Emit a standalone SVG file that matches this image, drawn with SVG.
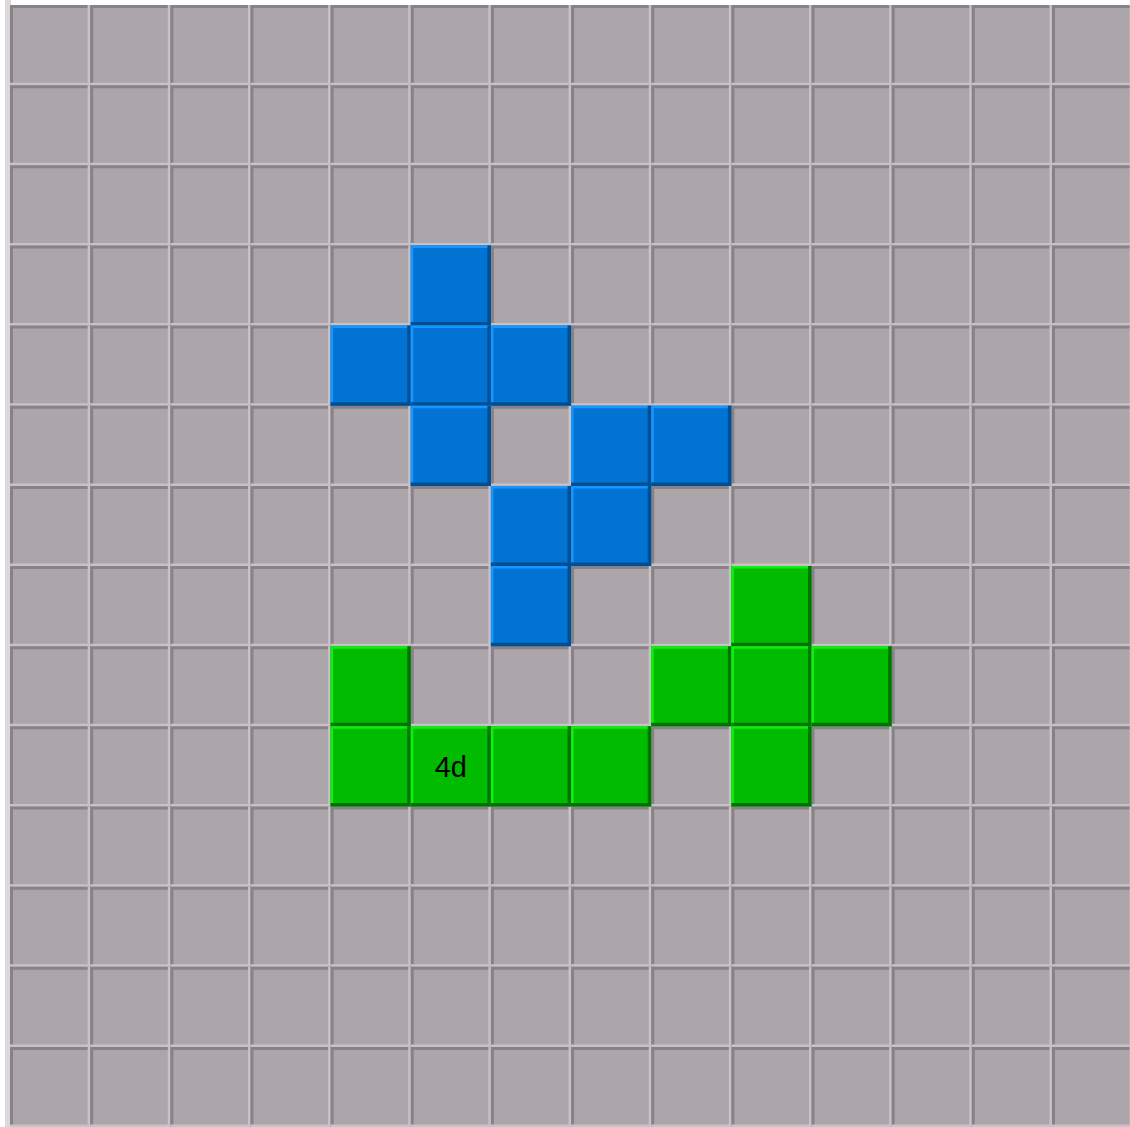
<svg xmlns="http://www.w3.org/2000/svg" xmlns:xlink="http://www.w3.org/1999/xlink" width="1130" height="1127" viewBox="0 0 1130 1127">
<style>
.lbl{font-family:"Liberation Sans",Arial,sans-serif;font-size:29px;fill:#000;text-anchor:middle}
</style>
<defs>
<g id="gc">
<rect width="80" height="80" fill="#aca6aa"/>
<path d="M0,0H80V3H3V80H0Z" fill="#878287"/>
<path d="M80,80H0V77.5H77.5V0H80Z" fill="#c8c2c8"/>
</g>
<g id="bc">
<rect width="80" height="80" fill="#0073d3"/>
<path d="M0,0H80V2.5H2.5V80H0Z" fill="#1697ff"/>
<path d="M80,80H0V76.5H76.5V0H80Z" fill="#004f93"/>
</g>
<g id="gr">
<rect width="80" height="80" fill="#00bb00"/>
<path d="M0,0H80V2.5H2.5V80H0Z" fill="#10f010"/>
<path d="M80,80H0V76.5H76.5V0H80Z" fill="#007400"/>
</g>
<g id="row">
<use xlink:href="#gc" x="0"/><use xlink:href="#gc" x="80"/><use xlink:href="#gc" x="160"/><use xlink:href="#gc" x="240"/><use xlink:href="#gc" x="320"/><use xlink:href="#gc" x="400"/><use xlink:href="#gc" x="480"/><use xlink:href="#gc" x="560"/><use xlink:href="#gc" x="640"/><use xlink:href="#gc" x="720"/><use xlink:href="#gc" x="800"/><use xlink:href="#gc" x="880"/><use xlink:href="#gc" x="960"/><use xlink:href="#gc" x="1040"/>
</g>
</defs>
<rect width="1130" height="1127" fill="#ffffff"/>
<rect x="5" y="0" width="6" height="1127" fill="#dcd8dc"/>
<g id="board" transform="translate(10,5) scale(1.0019)">
<g id="grid">
<use xlink:href="#row" y="0"/><use xlink:href="#row" y="80"/><use xlink:href="#row" y="160"/><use xlink:href="#row" y="240"/><use xlink:href="#row" y="320"/><use xlink:href="#row" y="400"/><use xlink:href="#row" y="480"/><use xlink:href="#row" y="560"/><use xlink:href="#row" y="640"/><use xlink:href="#row" y="720"/><use xlink:href="#row" y="800"/><use xlink:href="#row" y="880"/><use xlink:href="#row" y="960"/><use xlink:href="#row" y="1040"/>
</g>
<g id="blue-piece">
<use xlink:href="#bc" x="400" y="240"/>
<use xlink:href="#bc" x="320" y="320"/>
<use xlink:href="#bc" x="400" y="320"/>
<use xlink:href="#bc" x="480" y="320"/>
<use xlink:href="#bc" x="400" y="400"/>
<use xlink:href="#bc" x="560" y="400"/>
<use xlink:href="#bc" x="640" y="400"/>
<use xlink:href="#bc" x="480" y="480"/>
<use xlink:href="#bc" x="560" y="480"/>
<use xlink:href="#bc" x="480" y="560"/>
</g>
<g id="green-piece">
<use xlink:href="#gr" x="720" y="560"/>
<use xlink:href="#gr" x="320" y="640"/>
<use xlink:href="#gr" x="640" y="640"/>
<use xlink:href="#gr" x="720" y="640"/>
<use xlink:href="#gr" x="800" y="640"/>
<use xlink:href="#gr" x="320" y="720"/>
<use xlink:href="#gr" x="400" y="720"/>
<use xlink:href="#gr" x="480" y="720"/>
<use xlink:href="#gr" x="560" y="720"/>
<use xlink:href="#gr" x="720" y="720"/>
</g>
<g id="label-4d">
<text class="lbl" x="440" y="771">4d</text>
</g>
</g>
</svg>
